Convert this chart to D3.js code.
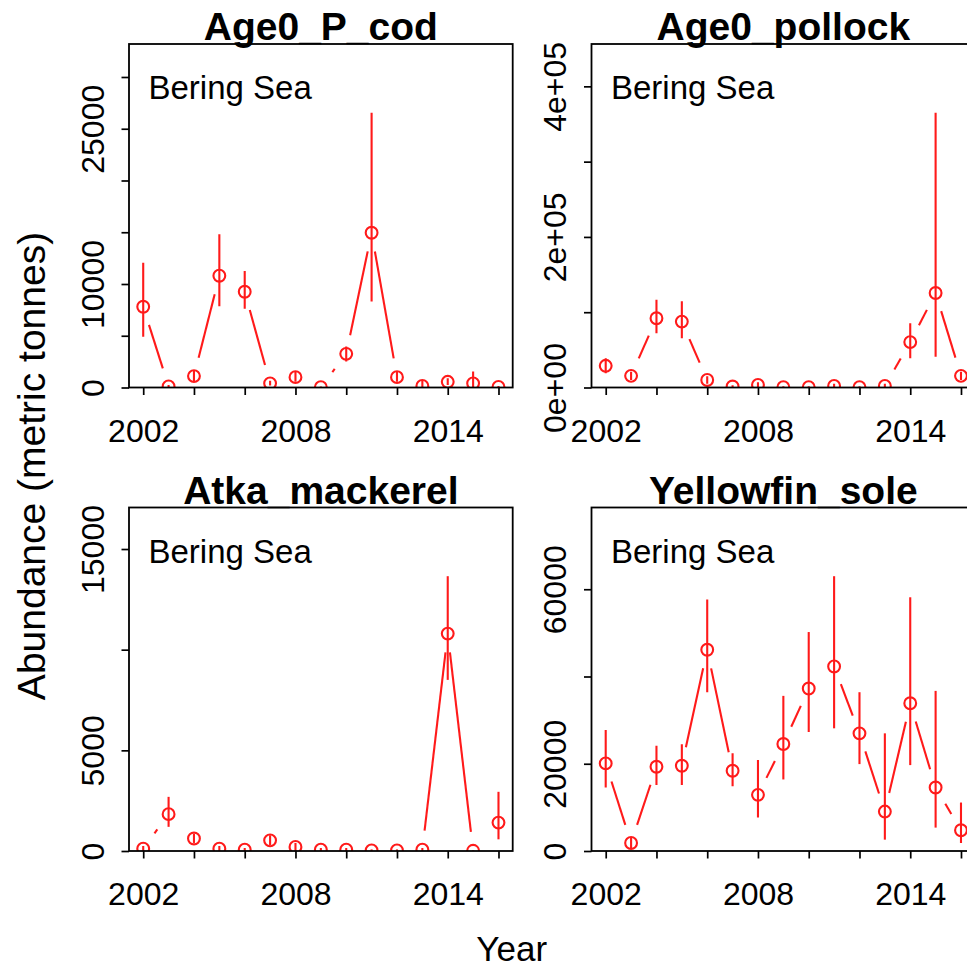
<!DOCTYPE html>
<html>
<head>
<meta charset="utf-8">
<script src="https://cdn.jsdelivr.net/npm/d3@7"></script>
<style>
  html, body { margin: 0; padding: 0; background: #fff; overflow: hidden; }
  text { font-family: "Liberation Sans", Arial, sans-serif; fill: #000; }
</style>
</head>
<body>
<script>
// ---------------- data ----------------
const years = [2002, 2003, 2004, 2005, 2006, 2007, 2008, 2009, 2010, 2011, 2012, 2013, 2014, 2015, 2016];

const codEst = [7800, 100, 1100, 10800, 9250, 400, 1000, 30, 3250, 14950, 1000, 150, 550, 400, 60];
const codLo  = [4900, 0, 600, 7850, 7600, 200, 550, 0, 2500, 8300, 550, 0, 250, 0, 0];
const codHi  = [12050, 250, 1700, 14800, 11250, 650, 1500, 100, 3950, 26550, 1500, 700, 900, 1550, 150];

const pollockEst = [28800, 15500, 92000, 87500, 10000, 1300, 3500, 400, 400, 2200, 500, 2200, 60300, 125500, 15500];
const pollockLo  = [19000, 10000, 72000, 65500, 5000, 0, 0, 0, 0, 0, 0, 0, 39000, 41000, 10000];
const pollockHi  = [39000, 21000, 116500, 114500, 15000, 3000, 7000, 1500, 1500, 5000, 1500, 5000, 85500, 365000, 21000];

const atkaEst = [120, 1830, 620, 120, 70, 530, 200, 70, 70, 30, 30, 70, 10800, 10, 1410];
const atkaLo  = [0, 1200, 400, 0, 0, 300, 0, 0, 0, 0, 0, 0, 8500, 0, 580];
const atkaHi  = [250, 2690, 850, 250, 150, 780, 400, 150, 150, 80, 80, 150, 13650, 30, 2940];

const yfsEst = [20080, 1840, 19310, 19540, 46130, 18390, 12870, 24520, 37240, 42300, 26970, 9040, 33870, 14560, 4750];
const yfsLo  = [14560, 540, 15100, 15100, 36400, 14870, 7660, 16400, 27280, 28120, 19920, 2600, 19690, 5360, 1840];
const yfsHi  = [27740, 3220, 24140, 24450, 57630, 22380, 20840, 35560, 50190, 62990, 36400, 26970, 58160, 36700, 11110];

const xTicks = [2002, 2004, 2006, 2008, 2010, 2012, 2014, 2016];
const xTickLabels = [2002, 2008, 2014];

const codYTicks = [0, 5000, 10000, 15000, 20000, 25000, 30000];
const codYLabelVals = [0, 10000, 25000];
const codYLabels = ["0", "10000", "25000"];

const pollockYTicks = [0, 100000, 200000, 300000, 400000];
const pollockYLabelVals = [0, 200000, 400000];
const pollockYLabels = ["0e+00", "2e+05", "4e+05"];

const atkaYTicks = [0, 5000, 10000, 15000];
const atkaYLabelVals = [0, 5000, 15000];
const atkaYLabels = ["0", "5000", "15000"];

const yfsYTicks = [0, 20000, 40000, 60000];
const yfsYLabelVals = [0, 20000, 60000];
const yfsYLabels = ["0", "20000", "60000"];

const titles = ["Age0_P_cod", "Age0_pollock", "Atka_mackerel", "Yellowfin_sole"];
const regionLabel = "Bering Sea";
const xTitle = "Year";
const yTitle = "Abundance (metric tonnes)";

// ---------------- layout ----------------
const W = 967, H = 970;
const PW = 383.7, PH = 343.5;
const COLS = [129, 591.5];
const ROWS = [44, 507.5];
const RED = "#ff1a1a";
const GAP = 19;

const panels = [
  { title: titles[0], est: codEst, lo: codLo, hi: codHi, ticks: codYTicks, lv: codYLabelVals, lt: codYLabels, x0: COLS[0], y0: ROWS[0] },
  { title: titles[1], est: pollockEst, lo: pollockLo, hi: pollockHi, ticks: pollockYTicks, lv: pollockYLabelVals, lt: pollockYLabels, x0: COLS[1], y0: ROWS[0] },
  { title: titles[2], est: atkaEst, lo: atkaLo, hi: atkaHi, ticks: atkaYTicks, lv: atkaYLabelVals, lt: atkaYLabels, x0: COLS[0], y0: ROWS[1] },
  { title: titles[3], est: yfsEst, lo: yfsLo, hi: yfsHi, ticks: yfsYTicks, lv: yfsYLabelVals, lt: yfsYLabels, x0: COLS[1], y0: ROWS[1] }
];

const svg = d3.select("body").append("svg")
  .attr("width", W).attr("height", H)
  .attr("viewBox", `0 0 ${W} ${H}`);

svg.append("rect").attr("width", W).attr("height", H).attr("fill", "#fff");

panels.forEach((p, i) => {
  const g = svg.append("g").attr("transform", `translate(${p.x0},${p.y0})`);

  const xr = d3.extent(years);
  const pad = (xr[1] - xr[0]) * 0.04;
  const x = d3.scaleLinear().domain([xr[0] - pad, xr[1] + pad]).range([0, PW]);
  const y = d3.scaleLinear().domain([0, d3.max(p.hi) * 1.25]).range([PH, 0]);

  const clipId = "clip" + i;
  g.append("clipPath").attr("id", clipId)
    .append("rect").attr("x", 0).attr("y", 0).attr("width", PW).attr("height", PH);

  const data = years.map((yr, k) => ({ yr, v: p.est[k], lo: p.lo[k], hi: p.hi[k] }));
  const marks = g.append("g").attr("clip-path", `url(#${clipId})`);

  // type="b" connecting segments with gaps
  for (let k = 1; k < data.length; k++) {
    const ax = x(data[k - 1].yr), ay = y(data[k - 1].v);
    const bx = x(data[k].yr), by = y(data[k].v);
    const dx = bx - ax, dy = by - ay;
    const d = Math.hypot(dx, dy);
    if (d > 2 * GAP) {
      const f = GAP / d;
      marks.append("line")
        .attr("x1", ax + dx * f).attr("y1", ay + dy * f)
        .attr("x2", bx - dx * f).attr("y2", by - dy * f)
        .attr("stroke", RED).attr("stroke-width", 2.1);
    }
  }

  // error bars
  marks.selectAll(".err").data(data).join("line")
    .attr("class", "err")
    .attr("x1", d => x(d.yr)).attr("x2", d => x(d.yr))
    .attr("y1", d => y(d.lo)).attr("y2", d => y(d.hi))
    .attr("stroke", RED).attr("stroke-width", 2.1);

  // points
  marks.selectAll(".pt").data(data).join("circle")
    .attr("class", "pt")
    .attr("cx", d => x(d.yr)).attr("cy", d => y(d.v))
    .attr("r", 5.9)
    .attr("fill", "none").attr("stroke", RED).attr("stroke-width", 2.1);

  // x axis
  const xa = g.append("g").attr("transform", `translate(0,${PH})`)
    .call(d3.axisBottom(x).tickValues(xTicks).tickSize(7.5).tickSizeOuter(0)
      .tickFormat(d => xTickLabels.includes(d) ? String(d) : ""));
  xa.select(".domain").remove();
  xa.selectAll(".tick line").attr("stroke", "#000").attr("stroke-width", 1.7);
  xa.selectAll(".tick text")
    .attr("y", 54).attr("dy", 0)
    .attr("font-size", 32).attr("fill", "#000")
    .style("font-family", '"Liberation Sans", Arial, sans-serif');

  // y axis
  const ya = g.append("g")
    .call(d3.axisLeft(y).tickValues(p.ticks).tickSize(7.5).tickSizeOuter(0)
      .tickFormat(d => { const j = p.lv.indexOf(d); return j >= 0 ? p.lt[j] : ""; }));
  ya.select(".domain").remove();
  ya.selectAll(".tick line").attr("stroke", "#000").attr("stroke-width", 1.7);
  ya.selectAll(".tick text")
    .attr("x", 0).attr("dy", 0).attr("y", 0)
    .attr("text-anchor", "middle")
    .attr("transform", "translate(-25.5,0) rotate(-90)")
    .attr("font-size", 32).attr("fill", "#000")
    .style("font-family", '"Liberation Sans", Arial, sans-serif');

  // box
  g.append("rect").attr("x", 0).attr("y", 0).attr("width", PW).attr("height", PH)
    .attr("fill", "none").attr("stroke", "#000").attr("stroke-width", 1.8);

  // region label
  g.append("text").attr("x", 19.5).attr("y", 55)
    .attr("font-size", 33).text(regionLabel);

  // title
  g.append("text").attr("x", PW / 2).attr("y", -4)
    .attr("text-anchor", "middle").attr("font-size", 39).attr("font-weight", "bold")
    .text(p.title);
});

// outer axis titles
svg.append("text").attr("x", 511.7).attr("y", 961)
  .attr("text-anchor", "middle").attr("font-size", 35).text(xTitle);

svg.append("text")
  .attr("transform", "translate(45,466) rotate(-90)")
  .attr("text-anchor", "middle").attr("font-size", 39).text(yTitle);
</script>
</body>
</html>
